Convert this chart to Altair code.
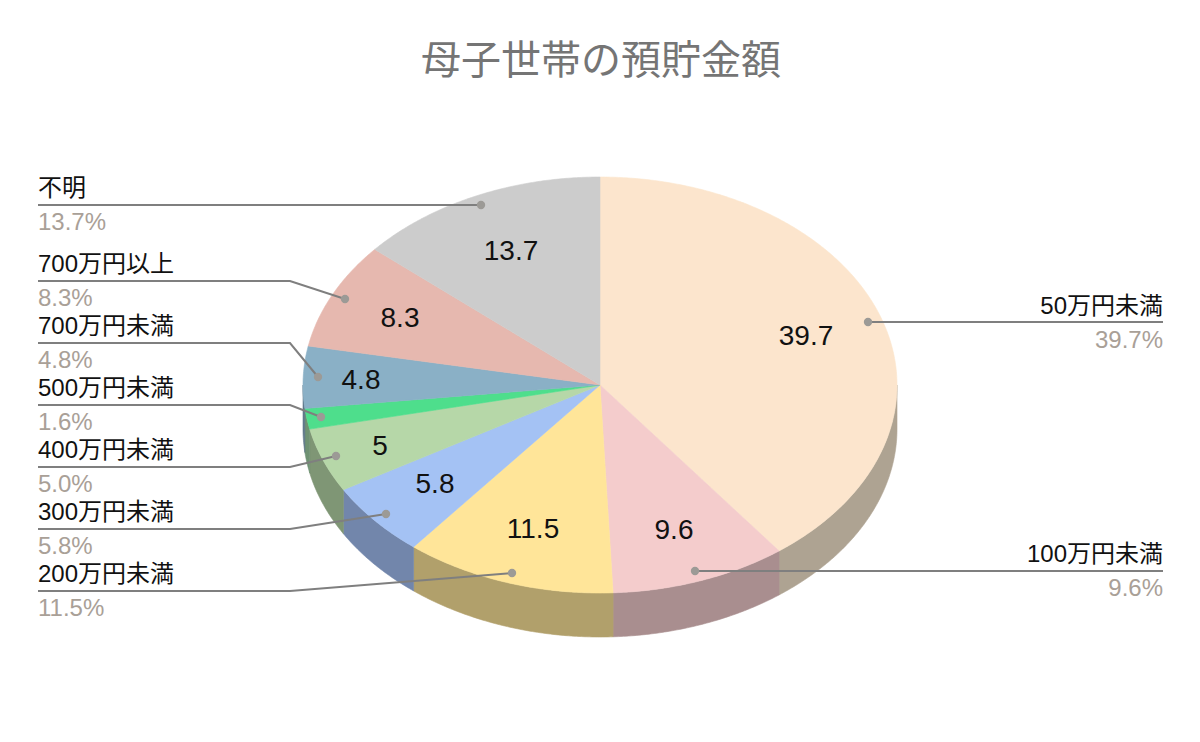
import math
import altair as alt
import pandas as pd

names = ["50万円未満", "100万円未満", "200万円未満", "300万円未満", "400万円未満",
         "500万円未満", "700万円未満", "700万円以上", "不明"]
values = [39.7, 9.6, 11.5, 5.8, 5.0, 1.6, 4.8, 8.3, 13.7]
value_text = ["39.7", "9.6", "11.5", "5.8", "5", "1.6", "4.8", "8.3", "13.7"]
top_colors = ["#FCE5CD", "#F4CCCC", "#FFE599", "#A4C2F4", "#B6D7A8",
              "#4EDE8C", "#8AB0C6", "#E6B8AF", "#CCCCCC"]
wall_colors = ["#AEA392", "#A98E8F", "#B1A06B", "#7286AB", "#7F9675",
               "#6F9273", "#60788A", "#A18079", "#8E8E8E"]
title_text = "母子世帯の預貯金額"

# layout, in picture pixels
CX, CY, RX, RY, DEPTH = 600, 385, 297, 208, 44
label_x = [806, 674, 533, 435, 380, None, 361, 400, 511]
label_y = [337, 531, 530, 485, 447, None, 381, 319, 252]
name_x = [1163, 1163, 38, 38, 38, 38, 38, 38, 38]
name_y = [307, 555, 575, 513, 451, 389, 327, 265, 189]
pct_y = [341, 589, 609, 547, 485, 423, 361, 299, 223]
leaders = [
    [(868, 322), (1163, 322)],
    [(695, 571), (1163, 571)],
    [(512, 573), (290, 591), (38, 591)],
    [(386, 514), (290, 529), (38, 529)],
    [(336, 456), (290, 467), (38, 467)],
    [(321, 417), (290, 405), (38, 405)],
    [(318, 377), (290, 343), (38, 343)],
    [(345, 299), (290, 281), (38, 281)],
    [(481, 205), (38, 205)],
]

def ell(deg, drop=0):
    t = math.radians(deg)
    return CX + RX * math.sin(t), CY - RY * math.cos(t) + drop

def arc_degs(a0, a1):
    n = max(2, int((a1 - a0) / 0.5) + 1)
    return [a0 + (a1 - a0) * i / (n - 1) for i in range(n)]

top_rows, wall_rows = [], []
cum = 0.0
for name, v, tc, wc in zip(names, values, top_colors, wall_colors):
    a0, a1 = cum * 3.6, (cum + v) * 3.6
    cum += v
    pts = [(CX, CY)] + [ell(d) for d in arc_degs(a0, a1)] + [(CX, CY)]
    for i, (x, y) in enumerate(pts):
        top_rows.append(dict(name=name, seq=i, x=x, y=y, c=tc))
    lo, hi = max(a0, 90), min(a1, 270)
    if hi > lo:
        ds = arc_degs(lo, hi)
        pts = [ell(d) for d in ds] + [ell(d, DEPTH) for d in reversed(ds)]
        pts.append(pts[0])
        for i, (x, y) in enumerate(pts):
            wall_rows.append(dict(name=name, seq=i, x=x, y=y, c=wc))

xs = alt.Scale(domain=[8, 1192], range=[0, 1184], nice=False, zero=False)
ys = alt.Scale(domain=[8, 734], range=[0, 726], nice=False, zero=False)
X = alt.X("x:Q", scale=xs, axis=None)
Y = alt.Y("y:Q", scale=ys, axis=None)

def polys(rows):
    return alt.Chart(pd.DataFrame(rows)).mark_line(strokeWidth=0.6).encode(
        x=X, y=Y,
        fill=alt.Fill("c:N", scale=None),
        stroke=alt.Stroke("c:N", scale=None),
        detail="name:N",
        order="seq:Q",
    )

FONT = "Liberation Sans, Noto Sans CJK JP"

leader_rows = []
dot_rows = []
for name, path in zip(names, leaders):
    for i, (x, y) in enumerate(path):
        leader_rows.append(dict(name=name, seq=i, x=x, y=y))
    dot_rows.append(dict(name=name, x=path[0][0], y=path[0][1]))

leader = alt.Chart(pd.DataFrame(leader_rows)).mark_line(
    color="#7F7F7F", strokeWidth=2).encode(x=X, y=Y, detail="name:N", order="seq:Q")
dots = alt.Chart(pd.DataFrame(dot_rows)).mark_point(
    filled=True, color="#9C9A96", opacity=1, size=70).encode(x=X, y=Y)

vals = pd.DataFrame([dict(x=a, y=b, t=t) for a, b, t in zip(label_x, label_y, value_text) if a])
val_text = alt.Chart(vals).mark_text(
    font=FONT, fontSize=28, color="#111111", align="center", baseline="middle"
).encode(x=X, y=Y, text="t:N")

def text_layer(rows, color, align):
    df = pd.DataFrame(rows)
    return alt.Chart(df).mark_text(
        font=FONT, fontSize=24, color=color, baseline="middle", align=align
    ).encode(x=X, y=Y, text="t:N")

pct = [f"{v:.1f}%" for v in values]
left = [i for i, x in enumerate(name_x) if x < 600]
right = [i for i, x in enumerate(name_x) if x >= 600]
layers = [polys(wall_rows), polys(top_rows), leader, dots, val_text]
for idx, al in ((left, "left"), (right, "right")):
    layers.append(text_layer([dict(x=name_x[i], y=name_y[i], t=names[i]) for i in idx], "#111111", al))
    layers.append(text_layer([dict(x=name_x[i], y=pct_y[i], t=pct[i]) for i in idx], "#A9A097", al))

title_df = pd.DataFrame([dict(x=601, y=62, t=title_text)])
layers.append(alt.Chart(title_df).mark_text(
    font=FONT, fontSize=40, color="#757575", align="center", baseline="middle"
).encode(x=X, y=Y, text="t:N"))

chart = alt.layer(*layers).properties(
    width=1184, height=726, padding=0, autosize=alt.AutoSizeParams(type="none"),
    background="white",
).configure_view(stroke=None)

chart.save("out.html", embed_options={"renderer": "svg", "actions": False})
